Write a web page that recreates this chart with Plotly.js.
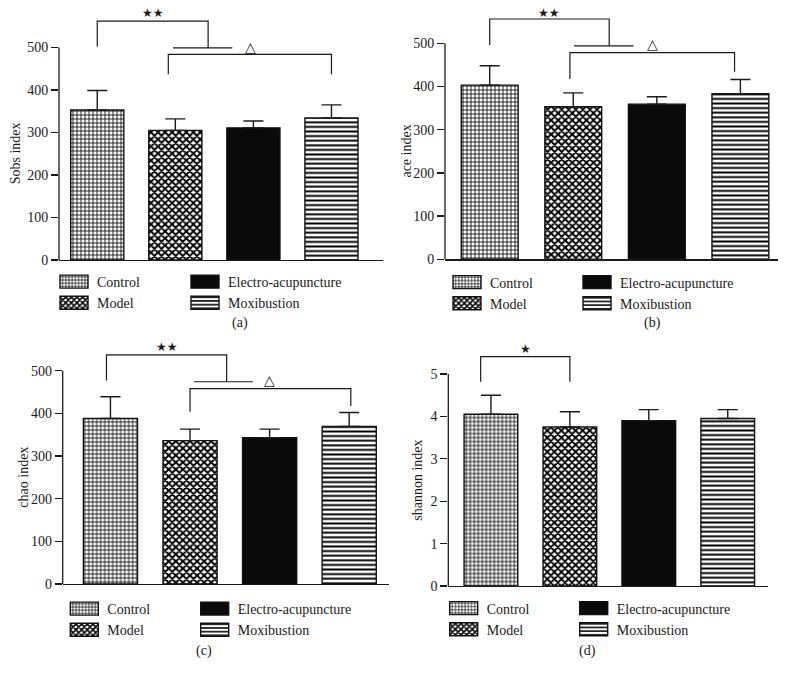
<!DOCTYPE html>
<html>
<head>
<meta charset="utf-8">
<script src="https://cdn.plot.ly/plotly-3.0.1.min.js"></script>
<style>
  html, body { margin: 0; padding: 0; background: #fff; }
  #chart { width: 786px; height: 677px; }
</style>
</head>
<body>
<div id="chart"></div>
<script>
const groups = ['Control', 'Model', 'Electro-acupuncture', 'Moxibustion'];

// mean and upper error (SD) per group
const sobsMean = [353, 305, 311, 334];
const sobsErr = [46, 27, 16, 31];
const aceMean = [403, 353, 359, 383];
const aceErr = [45, 32, 17, 33];
const chaoMean = [388, 336, 343, 369];
const chaoErr = [51, 27, 20, 33];
const shannonMean = [4.05, 3.75, 3.90, 3.95];
const shannonErr = [0.45, 0.36, 0.26, 0.21];

// significance brackets: [x left, x right, left foot, top, right foot]
const sobsBrackets = [[0, 1.42, 502, 562, 499], [0.91, 3.0, 437, 484, 437]];
const aceBrackets = [[0, 1.43, 496, 556, 494], [0.96, 2.93, 417, 478, 434]];
const chaoBrackets = [[-0.05, 1.46, 477, 537, 474], [1.0, 3.02, 404, 458, 417]];
const shannonBrackets = [[-0.13, 1.0, 4.82, 5.41, 4.82]];
// horizontal joining bars: [x from, x to, y]
const sobsJoin = [[0.97, 1.73, 499]];
const aceJoin = [[1.01, 1.72, 494]];
const chaoJoin = [[1.05, 1.79, 474]];
const shannonJoin = [];
// marks: [x, y, text]
const sobsMarks = [[0.72, 581, '★★'], [1.96, 500, '△']];
const aceMarks = [[0.71, 569, '★★'], [1.95, 498, '△']];
const chaoMarks = [[0.71, 555, '★★'], [2.0, 478, '△']];
const shannonMarks = [[0.44, 5.59, '★']];

const W = 786, H = 677;
const FONT = '"Liberation Serif", "Times New Roman", serif';
const INK = '#1a1a1a';

const panels = [
  { mean: sobsMean, err: sobsErr, brackets: sobsBrackets, join: sobsJoin, marks: sobsMarks,
    title: 'Sobs index', caption: '(a)', left: 59, right: 383, bottom: 260, top: 5,
    xr: [-0.49, 3.66], yMax: 600, axisTop: 500, step: 100,
    titleX: 15.6, capX: 240, capY: 323, legX: [57, 188], legTop: 266 },
  { mean: aceMean, err: aceErr, brackets: aceBrackets, join: aceJoin, marks: aceMarks,
    title: 'ace index', caption: '(b)', left: 445, right: 778, bottom: 259.3, top: 0,
    xr: [-0.535, 3.45], yMax: 600, axisTop: 500, step: 100,
    titleX: 406.3, capX: 652, capY: 323, legX: [450, 580], legTop: 266.5 },
  { mean: chaoMean, err: chaoErr, brackets: chaoBrackets, join: chaoJoin, marks: chaoMarks,
    title: 'chao index', caption: '(c)', left: 62.7, right: 389, bottom: 584, top: 328,
    xr: [-0.6, 3.5], yMax: 600, axisTop: 500, step: 100,
    titleX: 23.3, capX: 203.7, capY: 650.7, legX: [67.3, 197.7], legTop: 593 },
  { mean: shannonMean, err: shannonErr, brackets: shannonBrackets, join: shannonJoin, marks: shannonMarks,
    title: 'shannon index', caption: '(d)', left: 448.3, right: 768, bottom: 586, top: 331.6,
    xr: [-0.54, 3.51], yMax: 6, axisTop: 5, step: 1,
    titleX: 416.7, capX: 587.7, capY: 650.7, legX: [446.7, 576.7], legTop: 592.5 }
];

const fills = [
  { color: '#fff', pattern: { shape: '+', size: 4, solidity: 0.4, fgcolor: '#111', bgcolor: '#fff' } },
  { color: '#fff', pattern: { shape: 'x', size: 5, solidity: 0.62, fgcolor: '#000', bgcolor: '#fff' } },
  { color: '#0a0a0a', pattern: { shape: '' } },
  { color: '#fff', pattern: { shape: '-', size: 4.6, solidity: 0.42, fgcolor: '#000', bgcolor: '#fff' } }
];

const px = v => v / W;
const py = v => 1 - v / H;

const traces = [];
const shapes = [];
const annotations = [];
const layout = {
  width: W, height: H,
  margin: { l: 0, r: 0, t: 0, b: 0 },
  paper_bgcolor: '#fff', plot_bgcolor: 'rgba(0,0,0,0)',
  font: { family: FONT, size: 13.5, color: INK },
  bargap: 0,
  shapes: shapes,
  annotations: annotations
};

panels.forEach((p, k) => {
  const n = k + 1;
  const xa = n === 1 ? 'x' : 'x' + n;
  const ya = n === 1 ? 'y' : 'y' + n;
  const legA = k === 0 ? 'legend' : 'legend' + (2 * k + 1);
  const legB = 'legend' + (2 * k + 2);

  groups.forEach((g, i) => {
    traces.push({
      type: 'bar',
      x: [i],
      y: [p.mean[i]],
      width: [0.68],
      name: g,
      xaxis: xa, yaxis: ya,
      legend: i < 2 ? legA : legB,
      marker: { color: fills[i].color, pattern: fills[i].pattern, line: { color: '#111', width: 1.4 } },
      error_y: { type: 'data', symmetric: false, array: [p.err[i]], arrayminus: [0],
                 color: INK, thickness: 1.4, width: 10 },
      hoverinfo: 'skip'
    });
  });

  layout['xaxis' + (n === 1 ? '' : n)] = {
    domain: [px(p.left), px(p.right)], range: p.xr, anchor: ya,
    showline: true, linecolor: INK, linewidth: 1.3, ticks: '', showticklabels: false,
    showgrid: false, zeroline: false
  };
  const tv = [];
  for (let v = 0; v <= p.axisTop + 1e-9; v += p.step) tv.push(v);
  layout['yaxis' + (n === 1 ? '' : n)] = {
    domain: [py(p.bottom), py(p.top)], range: [0, p.yMax], anchor: xa,
    showline: false, showgrid: false, zeroline: false,
    ticks: 'outside', ticklen: 7, tickwidth: 1.3, tickcolor: INK,
    tickvals: tv, ticktext: tv.map(String), tickfont: { family: FONT, size: 14, color: INK }
  };

  // y axis line only up to the last tick
  shapes.push({ type: 'line', xref: xa + ' domain', yref: ya, x0: 0, x1: 0, y0: 0, y1: p.axisTop,
                line: { color: INK, width: 1.3 } });

  p.brackets.forEach(b => {
    shapes.push({ type: 'path', xref: xa, yref: ya,
      path: `M${b[0]},${b[2]} L${b[0]},${b[3]} L${b[1]},${b[3]} L${b[1]},${b[4]}`,
      line: { color: INK, width: 1.2 } });
  });
  p.join.forEach(j => {
    shapes.push({ type: 'line', xref: xa, yref: ya, x0: j[0], x1: j[1], y0: j[2], y1: j[2],
                  line: { color: INK, width: 1.2 } });
  });
  p.marks.forEach(m => {
    annotations.push({ xref: xa, yref: ya, x: m[0], y: m[1], text: m[2], showarrow: false,
      font: { family: 'DejaVu Sans', size: m[2] === '△' ? 14 : 12, color: INK } });
  });

  annotations.push({ xref: 'paper', yref: ya, x: px(p.titleX), y: p.axisTop / 2, text: p.title,
    textangle: -90, showarrow: false, xanchor: 'center', yanchor: 'middle',
    font: { family: FONT, size: 14, color: INK } });
  annotations.push({ xref: 'paper', yref: 'paper', x: px(p.capX), y: py(p.capY), text: p.caption,
    showarrow: false, xanchor: 'center', yanchor: 'middle',
    font: { family: FONT, size: 14, color: INK } });

  [legA, legB].forEach((id, c) => {
    layout[id] = {
      x: px(p.legX[c]), y: py(p.legTop), xanchor: 'left', yanchor: 'top',
      orientation: 'v', bgcolor: 'rgba(0,0,0,0)', borderwidth: 0,
      font: { family: FONT, size: 14, color: INK }, traceorder: 'normal'
    };
  });
});

// wider legend swatches, like the original figure
function widenSwatches(gd) {
  gd.querySelectorAll('g.legendpoints path').forEach(el => {
    el.setAttribute('d', 'M11,6.5H-17V-6.5H11Z');
  });
}

const chart = document.getElementById('chart');
Plotly.newPlot(chart, traces, layout, { staticPlot: true, displayModeBar: false }).then(gd => {
  widenSwatches(gd);
  gd.on('plotly_afterplot', () => widenSwatches(gd));
  setTimeout(() => widenSwatches(gd), 50);
});
</script>
</body>
</html>
